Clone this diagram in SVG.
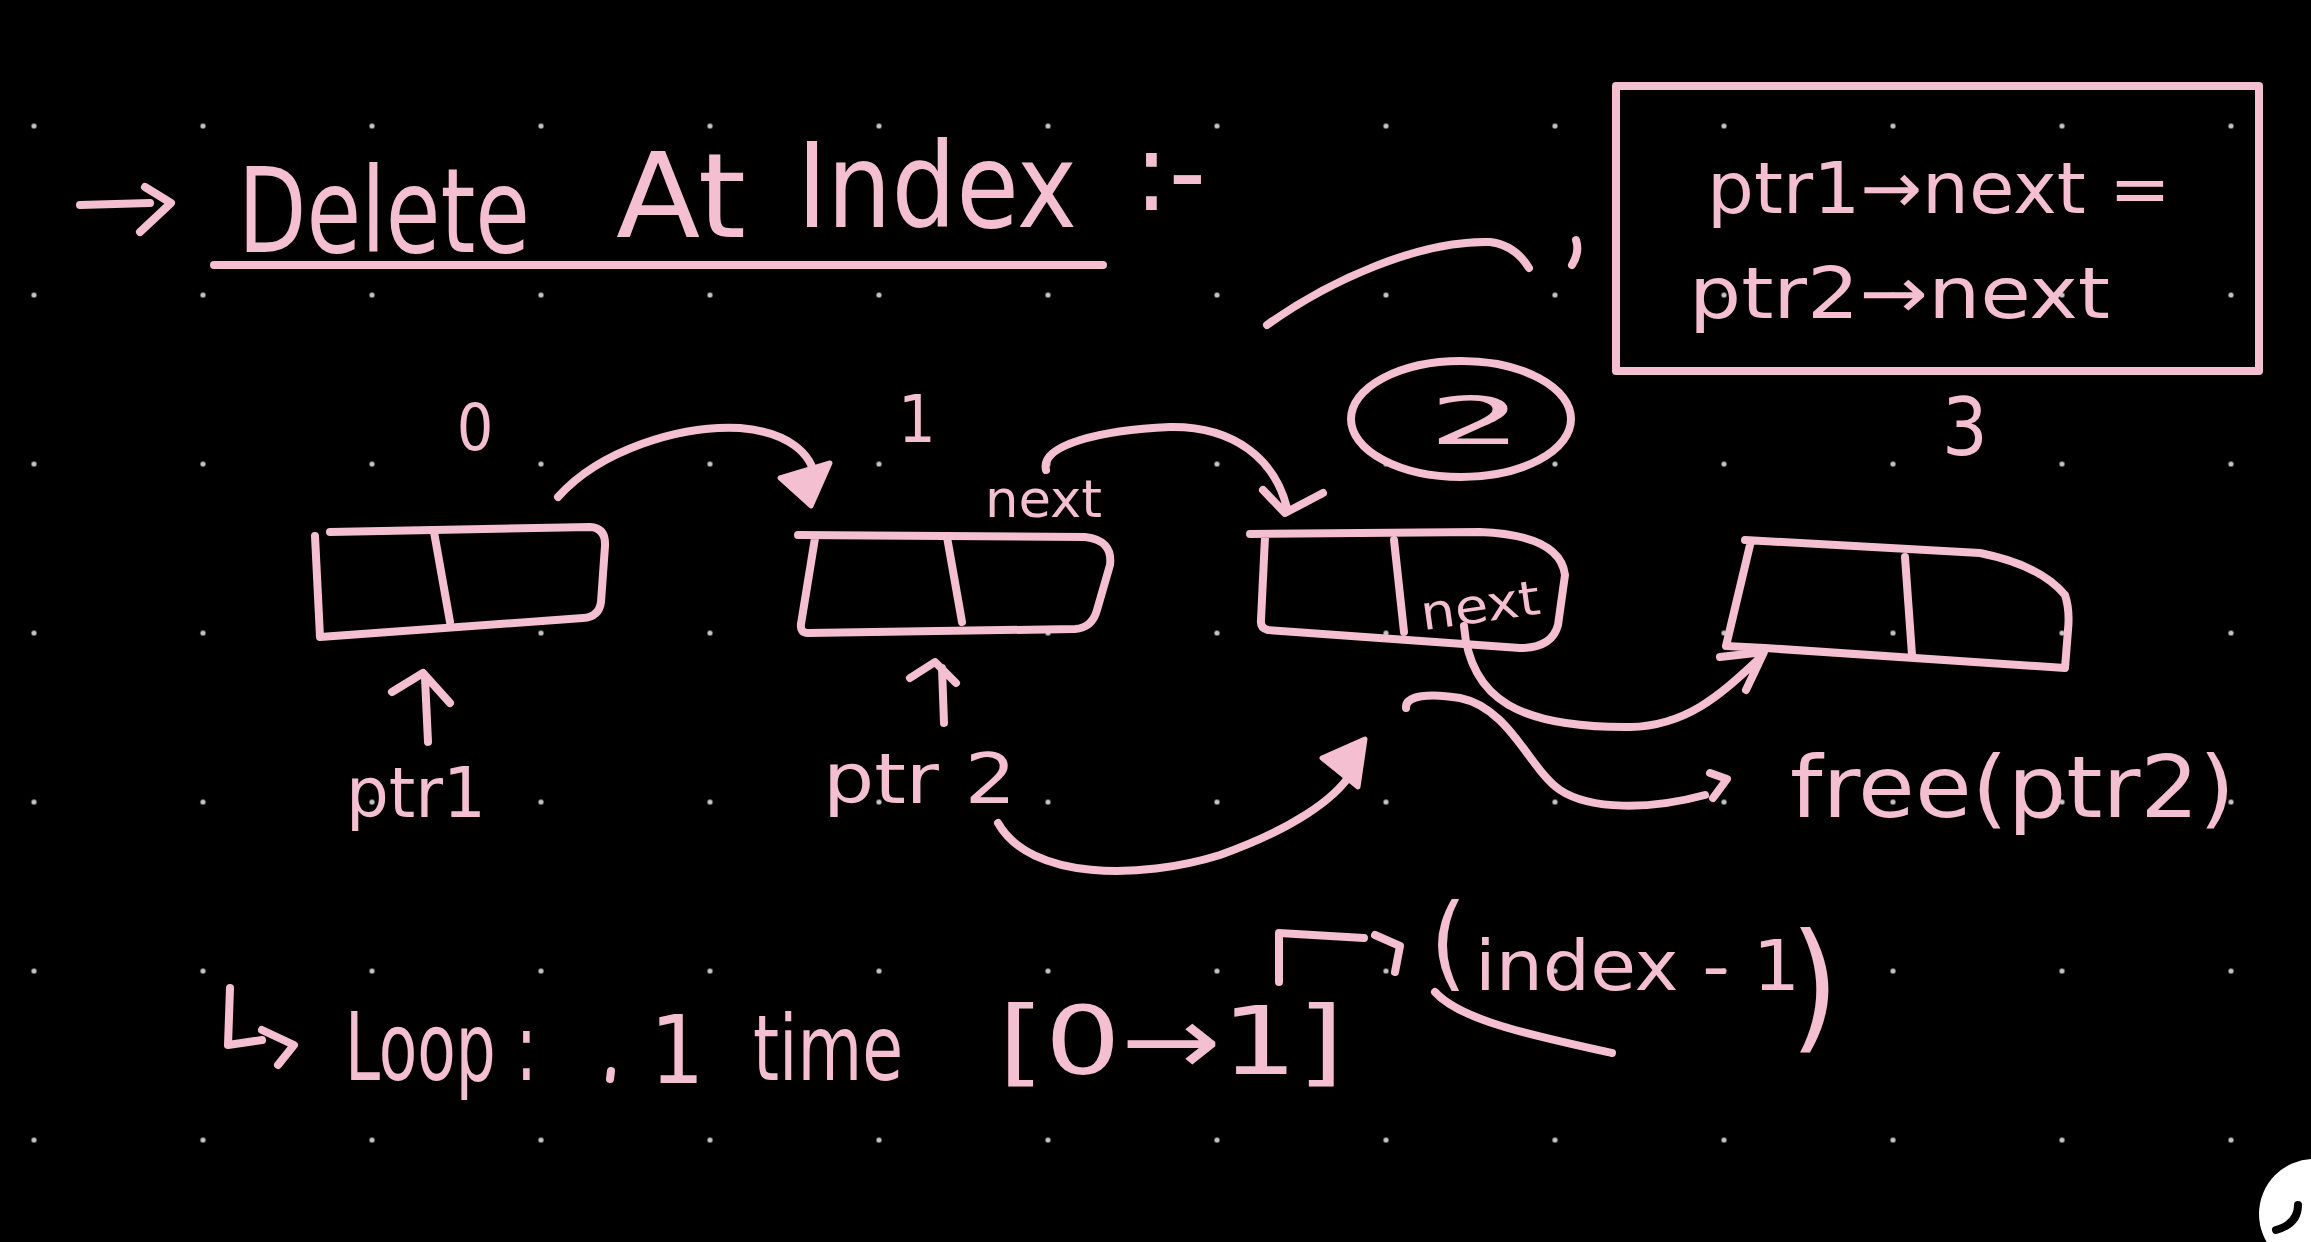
<svg xmlns="http://www.w3.org/2000/svg" width="2311" height="1242" viewBox="0 0 2311 1242">
<defs>
<pattern id="grid" x="-50.5" y="41.5" width="169" height="169" patternUnits="userSpaceOnUse">
<circle cx="84.5" cy="84.5" r="2.6" fill="#c4c4c4"/>
</pattern>
<style>
.s{fill:none;stroke:#f4bfd0;stroke-width:8;stroke-linecap:round;stroke-linejoin:round}
.f{fill:#f4bfd0;stroke:#f4bfd0;stroke-width:5;stroke-linejoin:round}
.t{fill:#f4bfd0;font-family:"Liberation Sans Narrow","DejaVu Sans Condensed","Liberation Sans",sans-serif}
</style>
</defs>
<rect width="2311" height="1242" fill="#000"/>
<rect width="2311" height="1242" fill="url(#grid)"/>

<g id="title">
<path class="s" d="M80 205 L150 203 M145 187 L171 203 L140 232"/>
<text class="t" font-size="118"><tspan x="238" y="252" textLength="292" lengthAdjust="spacingAndGlyphs">Delete</tspan> <tspan x="616" y="237" textLength="130" lengthAdjust="spacingAndGlyphs">At</tspan> <tspan x="797" y="227" textLength="280" lengthAdjust="spacingAndGlyphs">Index</tspan> <tspan x="1134" y="210" font-size="110" textLength="72" lengthAdjust="spacingAndGlyphs">:-</tspan></text>
<path class="s" stroke-width="9" d="M214 265 L1103 265"/>
</g>

<g id="codebox">
<rect x="1616" y="86" width="643" height="285" class="s" stroke-width="7" stroke-linecap="butt"/>
<text class="t" font-size="72" x="1707" y="213" textLength="464" lengthAdjust="spacingAndGlyphs">ptr1→next =</text>
<text class="t" font-size="72" x="1689" y="318" textLength="421" lengthAdjust="spacingAndGlyphs">ptr2→next</text>
</g>

<g id="node0">
<path class="s" d="M330 532 L590 527 Q606 528 605 546 L601 602 Q599 617 583 618 L320 637 L315 536"/>
<path class="s" d="M434 532 L450 622"/>
<text class="t" font-size="64" x="475" y="450" text-anchor="middle">0</text>
</g>

<g id="node1">
<path class="s" d="M798 535 L1085 537 Q1113 540 1110 565 L1097 610 Q1092 628 1075 629 L808 633 Q800 633 801 624 L815 538"/>
<path class="s" d="M947 537 L962 622"/>
<text class="t" font-size="66" x="917" y="442" text-anchor="middle">1</text>
<text class="t" font-size="52" x="985" y="517" textLength="117" lengthAdjust="spacingAndGlyphs">next</text>
</g>

<g id="node2">
<path class="s" d="M1250 534 L1480 532 Q1560 535 1565 575 L1558 625 Q1552 648 1520 648 L1268 630 Q1260 628 1261 620 L1265 537"/>
<path class="s" d="M1394 540 L1404 632"/>
<ellipse class="s" cx="1461" cy="419" rx="110" ry="58"/>
<text class="t" font-size="66" x="1428" y="444" textLength="95" lengthAdjust="spacingAndGlyphs">2</text>
<text class="t" font-size="48" x="1420" y="622" textLength="120" lengthAdjust="spacingAndGlyphs" transform="rotate(-8 1480 605)">next</text>
</g>

<g id="node3">
<path class="s" d="M1745 540 L1980 553 Q2040 565 2065 595 Q2070 610 2068 630 L2065 668 L1765 648 L1726 646 L1750 545"/>
<path class="s" d="M1905 557 L1912 655"/>
<text class="t" font-size="80" x="1965" y="455" text-anchor="middle">3</text>
</g>

<g id="ptr1">
<text class="t" font-size="70" x="346" y="817" textLength="140" lengthAdjust="spacingAndGlyphs">ptr1</text>
</g>
<g id="ptr2">
<text class="t" font-size="70" x="823" y="803" textLength="193" lengthAdjust="spacingAndGlyphs">ptr 2</text>
</g>
<g id="free">
<text class="t" font-size="85" x="1790" y="817" textLength="445" lengthAdjust="spacingAndGlyphs">free(ptr2)</text>
</g>

<g id="loop">
<path class="s" d="M230 988 L228 1045 L262 1040 M262 1030 L294 1045 L278 1065"/>
<text class="t" font-size="95"><tspan x="345" y="1080" textLength="192" lengthAdjust="spacingAndGlyphs">Loop :</tspan> <tspan x="650" y="1083">1</tspan> <tspan x="753" y="1080" font-size="90" textLength="150" lengthAdjust="spacingAndGlyphs">time</tspan> <tspan x="998" y="1074" textLength="346" lengthAdjust="spacingAndGlyphs">[0→1]</tspan></text>
<path class="s" stroke-width="4" d="M611 1071 L610 1079"/>
</g>

<g id="indexexpr">
<text class="t" font-size="70"><tspan x="1430" y="978" font-size="104">(</tspan><tspan x="1475" y="990" textLength="325" lengthAdjust="spacingAndGlyphs">index - 1</tspan><tspan x="1790" y="1034" font-size="140">)</tspan></text>
</g>

<g id="connectors">
<path class="s" d="M558 497 C600 450 680 425 740 428 C790 432 812 455 815 478"/>
<polygon class="f" points="780,478 830,463 811,506"/>
<path class="s" d="M1046 470 C1040 445 1100 430 1170 427 C1235 426 1275 460 1287 508 M1263 490 L1285 513 L1323 493"/>
<path class="s" d="M428 742 L425 678 M392 692 L423 673 L450 703"/>
<path class="s" d="M944 723 L942 668 M910 678 L935 662 L956 683"/>
<path class="s" d="M998 823 C1030 880 1140 880 1220 855 C1290 830 1335 800 1352 772"/>
<polygon class="f" points="1322,758 1365,739 1358,787"/>
<path class="s" d="M1464 626 C1470 700 1520 728 1630 727 C1690 726 1725 690 1760 658 M1720 657 L1764 652 L1746 690"/>
<path class="s" d="M1406 708 C1405 695 1430 693 1460 698 C1510 708 1530 770 1560 790 C1590 810 1650 810 1705 795 M1710 773 L1727 779 L1713 798"/>
<path class="s" d="M1267 325 C1330 280 1420 240 1490 242 Q1515 245 1529 268"/>
<path class="s" d="M1576 240 Q1580 252 1572 265"/>
<path class="s" d="M1279 982 L1279 933 L1364 938 M1375 935 L1400 946 L1395 972"/>
<path class="s" d="M1435 992 C1460 1020 1530 1035 1612 1053"/>
</g>

<g id="corner">
<circle cx="2314" cy="1214" r="55" fill="#fff"/>
<path d="M2298 1205 C2298 1218 2290 1226 2276 1230" fill="none" stroke="#000" stroke-width="8" stroke-linecap="round"/>
</g>
</svg>
